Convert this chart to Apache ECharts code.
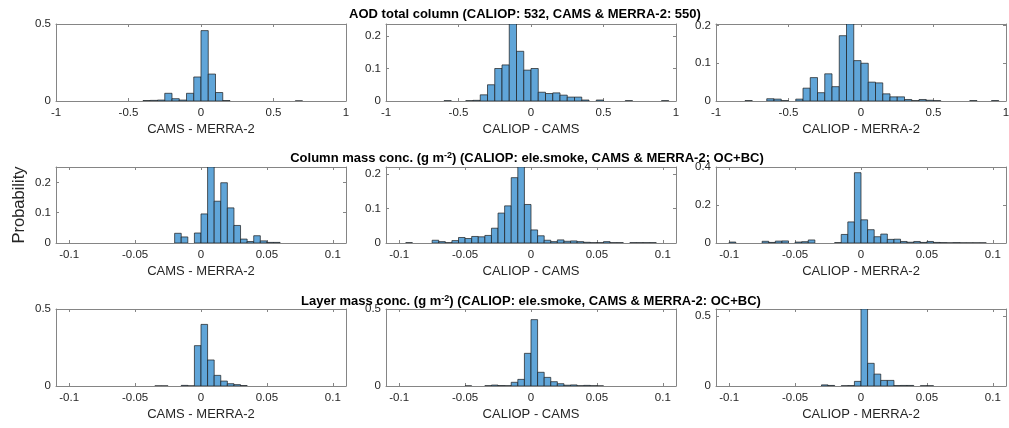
<!DOCTYPE html>
<html>
<head>
    <meta charset="utf-8">
    <script src="https://cdn.jsdelivr.net/npm/echarts@6/dist/echarts.min.js"></script>
    <style>
        html, body { margin: 0; padding: 0; background: #fff; }
        #main { width: 1009px; height: 428px; }
    </style>
</head>
<body>
<div id="main"></div>
<script type="text/javascript">
    // bin widths of the histograms
    const aodBin = 0.05;
    const massBin = 0.005;

    // row 1: AOD total column (left edge of first bin, then probability per bin)
    const aodCamsMerraStart = -0.4;
    const aodCamsMerra = [0.003, 0.004, 0.006, 0.05, 0.015, 0.006, 0.05, 0.156, 0.457, 0.175, 0.055, 0.003,
        0, 0, 0, 0, 0, 0, 0, 0, 0, 0.001];
    const aodCaliopCamsStart = -0.6;
    const aodCaliopCams = [0.001, 0, 0, 0.001, 0.002, 0.019, 0.05, 0.1, 0.111, 0.237, 0.153, 0.095, 0.1,
        0.027, 0.023, 0.025, 0.018, 0.012, 0.012, 0.003, 0, 0.003, 0, 0, 0, 0.001, 0, 0, 0, 0, 0.001];
    const aodCaliopMerraStart = -0.8;
    const aodCaliopMerra = [0.001, 0, 0, 0.006, 0.005, 0.001, 0, 0.005, 0.034, 0.062, 0.022, 0.072, 0.038,
        0.173, 0.204, 0.107, 0.1, 0.05, 0.048, 0.019, 0.011, 0.011, 0.004, 0.001, 0.004, 0.002, 0.001,
        0, 0, 0, 0, 0.001, 0, 0, 0.001];

    // row 2: column mass concentration
    const colCamsMerraStart = -0.02;
    const colCamsMerra = [0.032, 0.02, 0, 0.033, 0.096, 0.251, 0.138, 0.199, 0.116, 0.058, 0.013, 0.005,
        0.024, 0.007, 0.002, 0.002];
    const colCaliopCamsStart = -0.095;
    const colCaliopCams = [0.001, 0, 0, 0, 0.008, 0.004, 0.001, 0.007, 0.016, 0.013, 0.019, 0.018, 0.022,
        0.043, 0.087, 0.108, 0.19, 0.221, 0.112, 0.038, 0.021, 0.008, 0.004, 0.009, 0.005, 0.006, 0.004,
        0.002, 0.001, 0.001, 0.004, 0.001, 0.001, 0, 0.001, 0.001, 0.001, 0.001];
    const colCaliopMerraStart = -0.1;
    const colCaliopMerra = [0.005, 0, 0, 0, 0, 0.009, 0.003, 0.01, 0.011, 0, 0.005, 0.007, 0.016, 0, 0, 0,
        0.002, 0.045, 0.111, 0.37, 0.122, 0.07, 0.033, 0.047, 0.019, 0.02, 0.008, 0.004, 0.008, 0.003,
        0.008, 0.003, 0.002, 0.001, 0.002, 0.001, 0.001, 0.001, 0.001];

    // row 3: layer mass concentration
    const layCamsMerraStart = -0.035;
    const layCamsMerra = [0.001, 0.001, 0, 0, 0.004, 0.001, 0.262, 0.4, 0.169, 0.069, 0.032, 0.015, 0.009, 0.003];
    const layCaliopCamsStart = -0.05;
    const layCaliopCams = [0.001, 0, 0, 0.002, 0.006, 0.003, 0.002, 0.024, 0.043, 0.212, 0.431, 0.089, 0.056,
        0.028, 0.015, 0.005, 0.007, 0.002, 0.004, 0.002, 0.001];
    const layCaliopMerraStart = -0.03;
    const layCaliopMerra = [0.008, 0.004, 0, 0.002, 0.003, 0.033, 0.55, 0.162, 0.085, 0.04, 0.04, 0.003,
        0.004, 0.004, 0, 0.002, 0.002];

    // axes: ticks and limits
    const aodTicks = [-1, -0.5, 0, 0.5, 1];
    const massTicks = [-0.1, -0.05, 0, 0.05, 0.1];
    const yTicksHalf = [0, 0.5];
    const yTicksTenth = [0, 0.1, 0.2];
    const yTicksFifth = [0, 0.2, 0.4];
    const yMaxes = [0.5, 0.237, 0.204, 0.251, 0.221, 0.4, 0.5, 0.5, 0.55];

    const xLabels = ['CAMS - MERRA-2', 'CALIOP - CAMS', 'CALIOP - MERRA-2'];
    const rowTitles = [
        '{t|AOD total column (CALIOP: 532, CAMS & MERRA-2: 550)}',
        '{t|Column mass conc. (g m}{s|-2}{t|) (CALIOP: ele.smoke, CAMS & MERRA-2: OC+BC)}',
        '{t|Layer mass conc. (g m}{s|-2}{t|) (CALIOP: ele.smoke, CAMS & MERRA-2: OC+BC)}'
    ];

    const panels = [
        {data: aodCamsMerra, start: aodCamsMerraStart, bin: aodBin, xr: 1, xt: aodTicks, yt: yTicksHalf},
        {data: aodCaliopCams, start: aodCaliopCamsStart, bin: aodBin, xr: 1, xt: aodTicks, yt: yTicksTenth},
        {data: aodCaliopMerra, start: aodCaliopMerraStart, bin: aodBin, xr: 1, xt: aodTicks, yt: yTicksTenth},
        {data: colCamsMerra, start: colCamsMerraStart, bin: massBin, xr: 0.11, xt: massTicks, yt: yTicksTenth},
        {data: colCaliopCams, start: colCaliopCamsStart, bin: massBin, xr: 0.11, xt: massTicks, yt: yTicksTenth},
        {data: colCaliopMerra, start: colCaliopMerraStart, bin: massBin, xr: 0.11, xt: massTicks, yt: yTicksFifth},
        {data: layCamsMerra, start: layCamsMerraStart, bin: massBin, xr: 0.11, xt: massTicks, yt: yTicksHalf},
        {data: layCaliopCams, start: layCaliopCamsStart, bin: massBin, xr: 0.11, xt: massTicks, yt: yTicksHalf},
        {data: layCaliopMerra, start: layCaliopMerraStart, bin: massBin, xr: 0.11, xt: massTicks, yt: yTicksHalf}
    ];

    const colLeft = [56, 386, 716];
    const rowTop = [24, 167, 309];
    const rowHeight = [77, 76, 77];
    const titleTop = [7, 151, 294];
    const titleCenter = [525, 527, 531];

    const font = 'Liberation Sans, Arial, sans-serif';
    const boxColor = '#858585';
    const textColor = '#262626';
    const barFill = '#60a5d8';
    const barEdge = '#1b1b1b';

    const myChart = echarts.init(document.getElementById('main'));

    function renderBin(params, api) {
        const p0 = api.coord([api.value(0), api.value(2)]);
        const p1 = api.coord([api.value(1), 0]);
        return {
            type: 'rect',
            shape: {x: p0[0], y: p0[1], width: p1[0] - p0[0], height: p1[1] - p0[1]},
            style: {fill: barFill, stroke: barEdge, lineWidth: 0.7}
        };
    }

    const grid = [], xAxis = [], yAxis = [], series = [];
    panels.forEach(function (p, i) {
        const row = Math.floor(i / 3), col = i % 3;
        grid.push({
            left: colLeft[col], top: rowTop[row], width: 290, height: rowHeight[row],
            containLabel: false, outerBoundsMode: 'none'
        });
        const line = {show: true, onZero: false, lineStyle: {color: boxColor, width: 1}};
        const tick = {show: true, inside: true, length: 3, customValues: p.xt, lineStyle: {color: boxColor}};
        xAxis.push({
            type: 'value', gridIndex: i, position: 'bottom', min: -p.xr, max: p.xr,
            axisLine: line, axisTick: tick, splitLine: {show: false},
            axisLabel: {customValues: p.xt, fontSize: 11.5, fontFamily: font, color: textColor, margin: 6},
            name: xLabels[col], nameLocation: 'middle', nameGap: 22,
            nameTextStyle: {fontSize: 13, fontFamily: font, color: textColor}
        });
        xAxis.push({
            type: 'value', gridIndex: i, position: 'top', min: -p.xr, max: p.xr,
            axisLine: line, axisTick: tick, splitLine: {show: false}, axisLabel: {show: false}
        });
        const ytick = {show: true, inside: true, length: 3, customValues: p.yt, lineStyle: {color: boxColor}};
        const yLeft = {
            type: 'value', gridIndex: i, position: 'left', min: 0, max: yMaxes[i],
            axisLine: line, axisTick: ytick, splitLine: {show: false},
            axisLabel: {customValues: p.yt, fontSize: 11.5, fontFamily: font, color: textColor, margin: 5}
        };
        if (i === 3) {
            yLeft.name = 'Probability';
            yLeft.nameLocation = 'middle';
            yLeft.nameRotate = 90;
            yLeft.nameGap = 28;
            yLeft.nameTextStyle = {fontSize: 16.5, fontFamily: font, color: textColor};
        }
        yAxis.push(yLeft);
        yAxis.push({
            type: 'value', gridIndex: i, position: 'right', min: 0, max: yMaxes[i],
            axisLine: line, axisTick: ytick, splitLine: {show: false}, axisLabel: {show: false}
        });
        const bins = [];
        p.data.forEach(function (v, k) {
            if (v > 0) bins.push([p.start + k * p.bin, p.start + (k + 1) * p.bin, v]);
        });
        series.push({
            type: 'custom', xAxisIndex: 2 * i, yAxisIndex: 2 * i,
            renderItem: renderBin, encode: {x: [0, 1], y: 2}, data: bins, clip: true, silent: true
        });
    });

    const title = rowTitles.map(function (t, r) {
        return {
            text: t, left: titleCenter[r], top: titleTop[r], textAlign: 'center', padding: 0,
            textStyle: {
                rich: {
                    t: {fontSize: 13, fontWeight: 'bold', fontFamily: font, color: '#000', lineHeight: 15},
                    s: {fontSize: 9, fontWeight: 'bold', fontFamily: font, color: '#000', verticalAlign: 'top', lineHeight: 9}
                }
            }
        };
    });

    const option = {
        animation: false,
        backgroundColor: '#fff',
        title: title,
        grid: grid,
        xAxis: xAxis,
        yAxis: yAxis,
        series: series
    };

    myChart.setOption(option);
</script>
</body>
</html>
